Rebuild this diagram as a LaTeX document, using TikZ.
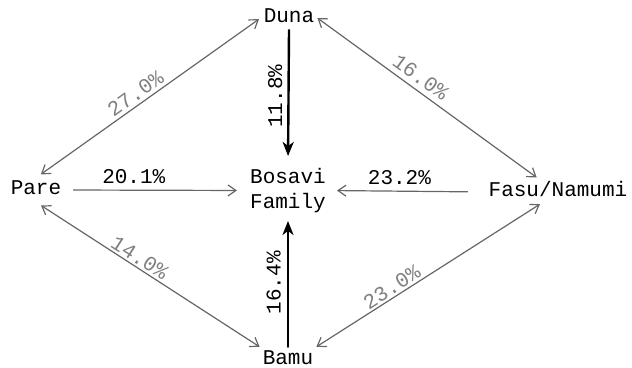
\documentclass[tikz,border=0pt]{standalone}
\usepackage{fontspec}
\newfontfamily\langmono{Liberation Mono}
\usetikzlibrary{arrows.meta}
\tikzset{
  every picture/.append style={line cap=round,line join=round},
  lang name/.style={font=\langmono\fontsize{21}{25}\selectfont,inner sep=3pt},
  lang word/.style={lang name,text height=14pt,text depth=4pt},
  lang pct/.style={font=\langmono\fontsize{21}{25}\selectfont,inner sep=2pt},
  lang link/.style={black!60,line width=1.2pt,{Straight Barb[length=8pt,width=11pt]}-{Straight Barb[length=8pt,width=11pt]}},
  lang flow/.style={black!60,line width=1.2pt,-{Straight Barb[length=8pt,width=11pt]}},
  lang main/.style={black,line width=2.4pt,-{Stealth[length=14pt,width=11pt,inset=4pt]}}
}

\begin{document}
\begin{tikzpicture}[x=1pt,y=1pt]
\useasboundingbox (0,0) rectangle (632,367);
\node[lang word] (duna) at (289,349) {Duna};
\node[lang word] (pare) at (36,177) {Pare};
\node[lang name,align=center] (bosavi) at (288,176.5) {Bosavi\\Family};
\node[lang word] (fasu) at (558,175) {Fasu/Namumi};
\node[lang word] (bamu) at (288,8) {Bamu};
% shared vocabulary between the neighbours
\draw[lang link,shorten <=6pt,shorten >=2pt] (pare.north) -- node[lang pct,sloped,above=1pt,pos=.47,text=black!50]{27.0\%} (duna.west);
\draw[lang link,shorten >=4pt] (duna.east) -- node[lang pct,sloped,above=3pt,pos=.43,text=black!50]{16.0\%} (fasu.146);
\draw[lang link,shorten <=6pt] (pare.south) -- node[lang pct,sloped,above=0pt,pos=.44,text=black!50]{14.0\%} (bamu.north west);
\draw[lang link] (bamu.north east) -- node[lang pct,sloped,above=0pt,pos=.36,text=black!50]{23.0\%} (fasu.214);
% into the Bosavi family
\draw[lang flow,shorten <=9pt,shorten >=10pt] (pare.east) -- node[lang pct,above=4pt,pos=.38,text=black]{20.1\%} (bosavi.west);
\draw[lang flow,shorten <=18pt,shorten >=8pt] (fasu.west) -- node[lang pct,above=4pt,pos=.55,text=black]{23.2\%} (bosavi.east);
\draw[lang main,shorten >=9pt] (duna.south) -- node[lang pct,pos=.49,anchor=south,rotate=90,inner sep=5pt]{11.8\%} (bosavi.north);
\draw[lang main,shorten >=5pt] (bamu.north) -- node[lang pct,pos=.49,anchor=south,rotate=90,inner sep=6pt]{16.4\%} (bosavi.south);
\end{tikzpicture}
\end{document}
